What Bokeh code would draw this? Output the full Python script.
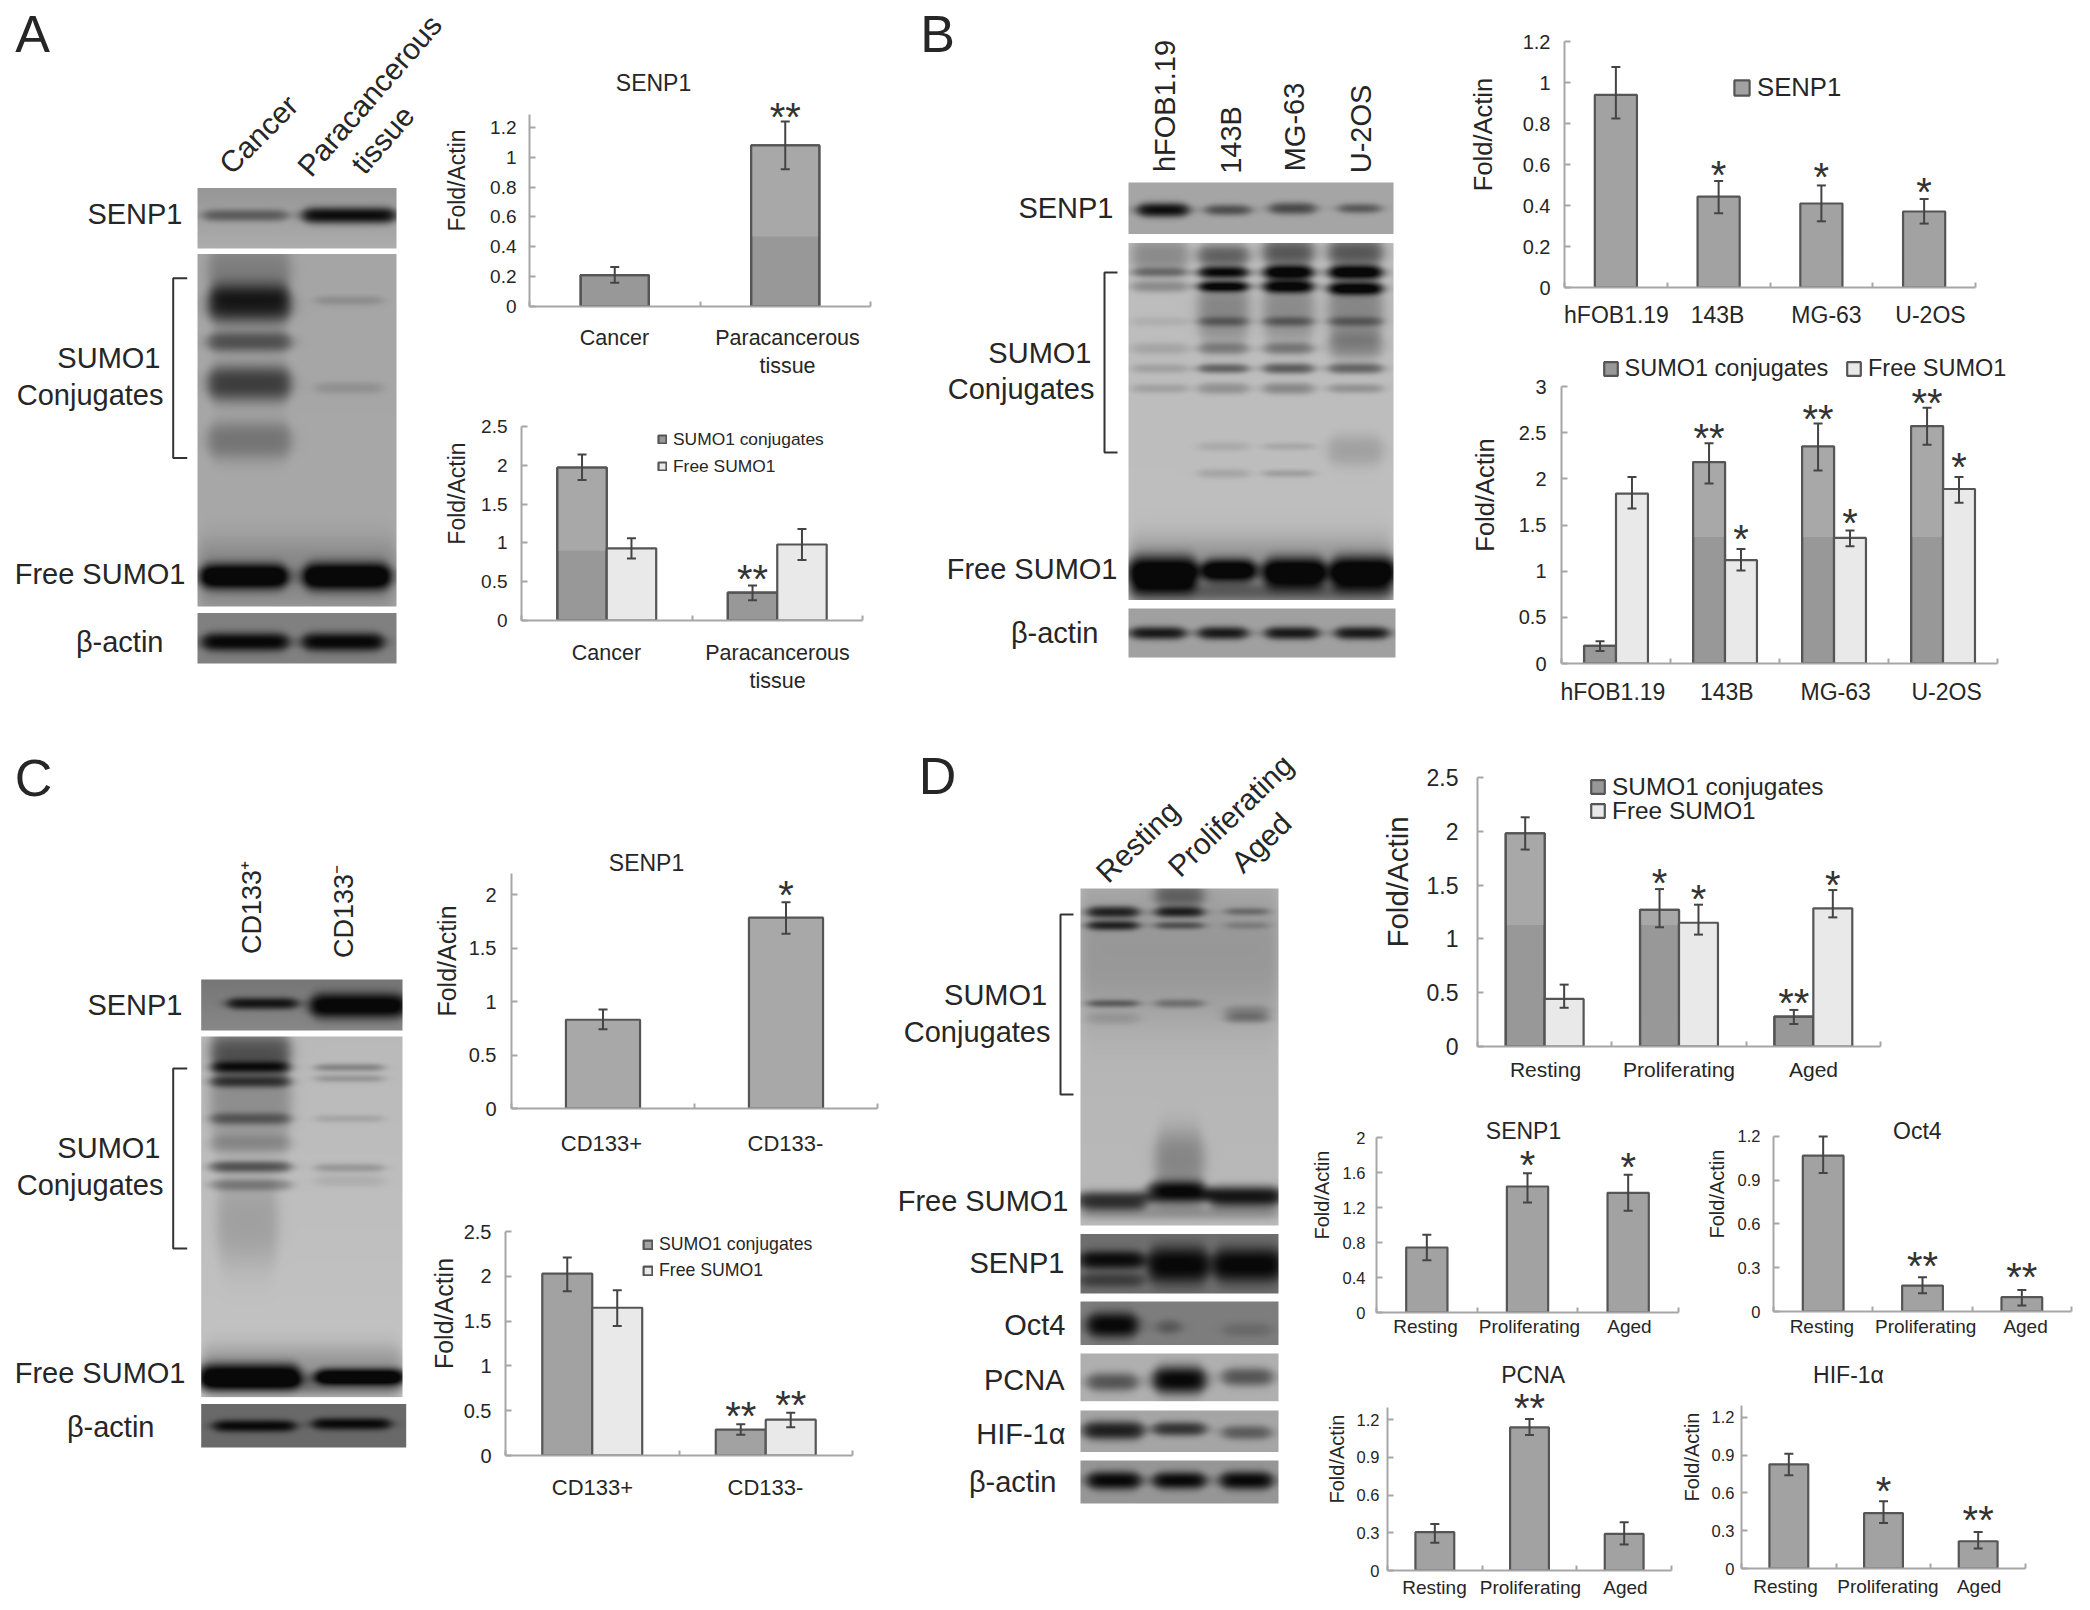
import numpy as np
from bokeh.core.properties import value
from bokeh.embed import file_html
from bokeh.layouts import column
from bokeh.models import (ColumnDataSource, FixedTicker, Label, Legend, LegendItem,
                          LinearColorMapper, Range1d, TeeHead, Whisker)
from bokeh.plotting import figure
from bokeh.resources import INLINE

FONT = "Liberation Sans"
TXT = "#262626"

# ---------- chart values ----------
a_cats = ["Cancer", "Paracancerous\ntissue"]
b_cats = ["hFOB1.19", "143B", "MG-63", "U-2OS"]
c_cats = ["CD133+", "CD133-"]
d_cats = ["Resting", "Proliferating", "Aged"]

a1_vals = [0.21, 1.08]; a1_hi = [0.265, 1.24]; a1_lo = [0.16, 0.92]
a2_conj = [1.97, 0.36]; a2_conj_hi = [2.14, 0.45]; a2_conj_lo = [1.81, 0.26]
a2_free = [0.93, 0.98]; a2_free_hi = [1.06, 1.18]; a2_free_lo = [0.80, 0.78]

b1_vals = [0.94, 0.443, 0.41, 0.371]; b1_hi = [1.076, 0.52, 0.498, 0.432]; b1_lo = [0.825, 0.362, 0.323, 0.312]
b2_conj = [0.19, 2.18, 2.35, 2.57]; b2_conj_hi = [0.24, 2.385, 2.6, 2.77]; b2_conj_lo = [0.135, 1.95, 2.09, 2.37]
b2_free = [1.84, 1.12, 1.36, 1.89]; b2_free_hi = [2.02, 1.24, 1.44, 2.02]; b2_free_lo = [1.68, 1.006, 1.27, 1.74]

c1_vals = [0.83, 1.785]; c1_hi = [0.925, 1.93]; c1_lo = [0.742, 1.635]
c2_conj = [2.03, 0.29]; c2_conj_hi = [2.21, 0.35]; c2_conj_lo = [1.835, 0.233]
c2_free = [1.65, 0.40]; c2_free_hi = [1.845, 0.476]; c2_free_lo = [1.447, 0.316]

d_conj = [1.98, 1.27, 0.278]; d_conj_hi = [2.13, 1.463, 0.34]; d_conj_lo = [1.83, 1.108, 0.21]
d_free = [0.442, 1.15, 1.284]; d_free_hi = [0.575, 1.318, 1.454]; d_free_lo = [0.36, 1.04, 1.2]
d_senp1 = [0.743, 1.44, 1.368]; d_senp1_hi = [0.888, 1.592, 1.573]; d_senp1_lo = [0.598, 1.257, 1.162]
d_oct4 = [1.068, 0.178, 0.098]; d_oct4_hi = [1.2, 0.235, 0.148]; d_oct4_lo = [0.949, 0.125, 0.041]
d_pcna = [0.305, 1.139, 0.291]; d_pcna_hi = [0.371, 1.205, 0.384]; d_pcna_lo = [0.22, 1.078, 0.207]
d_hif = [0.826, 0.44, 0.216]; d_hif_hi = [0.91, 0.533, 0.29]; d_hif_lo = [0.739, 0.361, 0.158]

# significance marks: (category, series, mark, height on the value axis)
a1_marks = [(1, 0, "**", 1.30)]
a2_marks = [(1, 0, "**", 0.587)]
b1_marks = [(1, 0, "*", 0.567), (2, 0, "*", 0.557), (3, 0, "*", 0.484)]
b2_marks = [(1, 0, "**", 2.49), (2, 0, "**", 2.695), (3, 0, "**", 2.865),
            (1, 1, "*", 1.39), (2, 1, "*", 1.57), (3, 1, "*", 2.17)]
c1_marks = [(1, 0, "*", 2.03)]
c2_marks = [(1, 0, "**", 0.485), (1, 1, "**", 0.607)]
d_marks = [(1, 0, "*", 1.556), (1, 1, "*", 1.408), (2, 0, "**", 0.442), (2, 1, "*", 1.535)]
d_senp1_marks = [(1, 0, "*", 1.733), (2, 0, "*", 1.707)]
d_oct4_marks = [(1, 0, "**", 0.342), (2, 0, "**", 0.262)]
d_pcna_marks = [(1, 0, "**", 1.325)]
d_hif_marks = [(1, 0, "*", 0.646), (2, 0, "**", 0.414)]

T05 = [0, 0.5, 1, 1.5, 2, 2.5]
T02 = [0, 0.2, 0.4, 0.6, 0.8, 1, 1.2]
T03 = [0, 0.3, 0.6, 0.9, 1.2]
T04 = [0, 0.4, 0.8, 1.2, 1.6, 2]

# ---------- page layout of the charts (full-size pixels) ----------
DARK, LIGHT, MID, PALE, EDGE = "#989898", "#a8a8a8", "#a2a2a2", "#e9e9e9", "#555555"

CHARTS = [
    dict(left=529, right=870, y0=306, top=114, ymax=1.287, ticks=T02, cats=a_cats,
         label_x=[614, 787], label_y=337.5, label_fs=21.5, tick_fs=19, gap=13, fold_x=459, fold_fs=23,
         series=[(a1_vals, a1_hi, a1_lo, LIGHT, 0.47)], bw=0.4, marks=a1_marks,
         title="SENP1", title_xy=(653, 82), title_fs=23),
    dict(left=521, right=862, y0=620, top=426.4, ymax=2.5, ticks=T05, cats=a_cats,
         label_x=[606, 777], label_y=652, label_fs=21.5, tick_fs=19, gap=14, fold_x=459, fold_fs=23,
         series=[(a2_conj, a2_conj_hi, a2_conj_lo, LIGHT, 0.9), (a2_free, a2_free_hi, a2_free_lo, PALE, None)],
         bw=0.29, marks=a2_marks, legend=[("SUMO1 conjugates", 657, 439, 17.4, 10), ("Free SUMO1", 657, 466, 17.4, 10)]),
    dict(left=1564, right=1975, y0=286, top=40.5, ymax=1.2, ticks=T02, cats=b_cats,
         label_x=[1616, 1717, 1826, 1930], label_y=313, label_fs=23, tick_fs=20, gap=14, fold_x=1484, fold_fs=25.5,
         series=[(b1_vals, b1_hi, b1_lo, MID, None)], bw=0.41, marks=b1_marks,
         legend=[("SENP1", 1732, 86, 25.7, 19)]),
    dict(left=1560.5, right=1997, y0=663, top=386, ymax=3, ticks=[0, 0.5, 1, 1.5, 2, 2.5, 3], cats=b_cats,
         label_x=[1612, 1726, 1835, 1946], label_y=691, label_fs=23, tick_fs=20, gap=15, fold_x=1485, fold_fs=25.5, R=40,
         series=[(b2_conj, b2_conj_hi, b2_conj_lo, LIGHT, 1.37), (b2_free, b2_free_hi, b2_free_lo, PALE, None)],
         bw=0.293, marks=b2_marks,
         legend=[("SUMO1 conjugates", 1601.5, 368, 23.5, 17), ("Free SUMO1", 1845, 368, 23.5, 17)]),
    dict(left=511, right=877, y0=1107.5, top=873, ymax=2.197, ticks=[0, 0.5, 1, 1.5, 2], cats=c_cats,
         label_x=[601, 785], label_y=1142, label_fs=22, tick_fs=20, gap=15, fold_x=448, fold_fs=25,
         series=[(c1_vals, c1_hi, c1_lo, LIGHT, None)], bw=0.405, marks=c1_marks,
         title="SENP1", title_xy=(646, 862.5), title_fs=23),
    dict(left=505, right=852, y0=1454.5, top=1231, ymax=2.5, ticks=T05, cats=c_cats,
         label_x=[592, 765], label_y=1486, label_fs=22, tick_fs=20, gap=14, fold_x=445, fold_fs=25,
         series=[(c2_conj, c2_conj_hi, c2_conj_lo, MID, None), (c2_free, c2_free_hi, c2_free_lo, PALE, None)],
         bw=0.288, marks=c2_marks,
         legend=[("SUMO1 conjugates", 642, 1244, 17.7, 11), ("Free SUMO1", 642, 1270, 17.7, 11)]),
    dict(left=1477, right=1880, y0=1046, top=777, ymax=2.5, ticks=T05, cats=d_cats,
         label_x=[1545, 1678.5, 1813], label_y=1069, label_fs=21, tick_fs=23, gap=19, fold_x=1398, fold_fs=29.5,
         series=[(d_conj, d_conj_hi, d_conj_lo, LIGHT, 1.13), (d_free, d_free_hi, d_free_lo, PALE, None)],
         bw=0.29, marks=d_marks,
         legend=[("SUMO1 conjugates", 1589, 786, 24.4, 17), ("Free SUMO1", 1589, 810, 24.4, 17)]),
    dict(left=1376, right=1678, y0=1311.7, top=1136.7, ymax=2, ticks=T04, cats=d_cats,
         label_x=[1425, 1529, 1629], label_y=1326, label_fs=19, tick_fs=16.5, gap=11, fold_x=1323, fold_fs=20,
         series=[(d_senp1, d_senp1_hi, d_senp1_lo, MID, None)], bw=0.41, marks=d_senp1_marks,
         title="SENP1", title_xy=(1523, 1130), title_fs=23),
    dict(left=1772.6, right=2071, y0=1311, top=1135.7, ymax=1.2, ticks=T03, cats=d_cats,
         label_x=[1821, 1925, 2025], label_y=1326, label_fs=19, tick_fs=16.5, gap=13, fold_x=1718, fold_fs=20,
         series=[(d_oct4, d_oct4_hi, d_oct4_lo, MID, None)], bw=0.41, marks=d_oct4_marks,
         title="Oct4", title_xy=(1916.6, 1130), title_fs=23),
    dict(left=1387, right=1671, y0=1570, top=1406.7, ymax=1.298, ticks=T03, cats=d_cats,
         label_x=[1434, 1530, 1625], label_y=1587, label_fs=19, tick_fs=16.5, gap=8, fold_x=1338, fold_fs=20,
         series=[(d_pcna, d_pcna_hi, d_pcna_lo, MID, None)], bw=0.41, marks=d_pcna_marks,
         title="PCNA", title_xy=(1532.7, 1374), title_fs=23),
    dict(left=1741, right=2025, y0=1568, top=1405, ymax=1.293, ticks=T03, cats=d_cats,
         label_x=[1785, 1887.5, 1978.6], label_y=1586, label_fs=19, tick_fs=16.5, gap=7, fold_x=1692.6, fold_fs=20,
         series=[(d_hif, d_hif_hi, d_hif_lo, MID, None)], bw=0.41, marks=d_hif_marks,
         title="HIF-1\u03b1", title_xy=(1848, 1374), title_fs=23),
]

# ---------- blot strips: box, background top/bottom grey, lanes of (x0, x1, [(y, half height, darkness)]) ----------
STRIPS = [
    # A
    (197, 187.5, 396, 248, 150, 172, [(203, 287, [(215, 5, 70)]), (302, 395, [(215, 7, 150)])]),
    (197, 253.5, 396, 606, 165, 168, [
        (208, 290, [(272, 25, 40), (303.6, 17, 130), (341.5, 9, 85), (383, 16, 105), (440, 17, 50)]),
        (315, 382, [(300, 4, 25), (387.5, 5, 22)]),
        (197, 396, [(575, 32, 35)]),
        (200, 287, [(576, 11, 170)]), (303, 390, [(576, 12, 170)])]),
    (197, 612.5, 396, 663, 128, 128, [(202, 288, [(641.5, 8, 125)]), (302, 383, [(641.5, 8, 125)])]),
    # B
    (1128, 182, 1393, 233.5, 165, 165, [(1137, 1188, [(210, 6, 155)]), (1205, 1250, [(210, 4.5, 90)]),
                                       (1269, 1315, [(208.5, 5, 95)]), (1338, 1380, [(208.5, 4, 80)])]),
    (1128, 242.5, 1393, 599.5, 188, 190, [
        (1132, 1187, [(255, 15, 50), (272, 4, 70), (286, 5, 50), (321, 4, 15), (348, 5, 25), (368, 4, 30), (388, 4, 30)]),
        (1198, 1248, [(255, 10, 90), (272, 5, 170), (286, 4.5, 170), (310, 30, 55), (321, 4, 55), (348, 5, 55), (368, 4, 95), (388, 5, 45), (446, 4, 20), (473, 4, 25)]),
        (1263, 1313, [(252, 12, 100), (272, 6, 190), (286, 5.5, 170), (310, 30, 50), (321, 4, 60), (348, 5, 60), (368, 4.5, 100), (388, 5, 55), (446, 3, 25), (473, 3, 35)]),
        (1328, 1382, [(252, 12, 100), (272, 6, 190), (288, 5.5, 170), (310, 30, 55), (321, 4, 55), (345, 12, 45), (368, 4.5, 90), (388, 4, 45), (450, 14, 28)]),
        (1128, 1393, [(572, 30, 50), (592, 8, 60)]),
        (1128, 1197, [(573, 15, 170)]), (1202, 1255, [(570, 10, 170)]), (1263, 1325, [(572, 13, 170)]), (1330, 1396, [(572, 14, 170)])]),
    (1128, 608, 1395, 657, 160, 160, [(1130, 1185, [(632.6, 5.5, 140)]), (1198, 1247, [(632.6, 5.5, 140)]),
                                     (1265, 1318, [(632.6, 5.5, 140)]), (1335, 1388, [(632.6, 5.5, 140)])]),
    # C
    (200.7, 979, 402, 1030, 118, 135, [(227, 297, [(1003, 5, 110)]), (310, 405, [(1005.4, 11, 135)])]),
    (200.7, 1036, 402, 1396.6, 185, 195, [
        (210, 290, [(1052, 18, 90), (1068, 5, 95), (1082, 5, 95), (1100, 40, 45), (1119, 5, 65), (1144, 8, 35), (1167, 5, 100), (1185, 5, 55)]),
        (217, 277, [(1222, 40, 30)]),
        (315, 383, [(1068, 3, 60), (1079, 3, 40), (1119, 3, 25), (1168, 3.5, 40), (1181, 5, 15)]),
        (200.7, 402, [(1370, 22, 45), (1385, 8, 50)]),
        (198, 300, [(1376, 11, 170)]), (315, 405, [(1376, 7, 170)])]),
    (200.7, 1403.5, 405.7, 1447, 105, 105, [(213, 295, [(1426, 5, 100)]), (312, 390, [(1424, 5, 100)])]),
    # D
    (1080, 888, 1278, 1225, 178, 185, [
        (1080, 1278, [(955, 60, 28)]),
        (1087, 1138, [(911.6, 5, 130), (925, 4, 130), (1003, 3, 80), (1018, 5, 20)]),
        (1155, 1203, [(895, 10, 70), (911.6, 4.5, 130), (925, 3, 85), (1003, 3.5, 55), (1160, 28, 50)]),
        (1225, 1268, [(911, 3, 60), (925, 3, 35), (1011, 5, 40), (1018, 4, 50)]),
        (1080, 1278, [(1212, 6, 40)]),
        (1077, 1147, [(1200, 8, 140)]), (1147, 1207, [(1192, 10, 165)]), (1207, 1281, [(1196, 9, 165)])]),
    (1080, 1233.5, 1278, 1293, 110, 110, [(1080, 1143, [(1260, 8, 100), (1280, 6, 50)]), (1148, 1208, [(1265, 16, 105)]), (1213, 1281, [(1265, 15, 105)])]),
    (1080, 1301, 1278, 1344.5, 125, 125, [(1087, 1137, [(1325, 11, 120)]), (1157, 1180, [(1327, 6, 40)]), (1223, 1270, [(1329.6, 6, 20)])]),
    (1080, 1353, 1278, 1400.7, 175, 175, [(1087, 1137, [(1382, 8, 90)]), (1153, 1205, [(1380, 12, 170)]), (1222, 1272, [(1377, 8, 90)])]),
    (1080, 1410, 1278, 1451.5, 165, 165, [(1083, 1143, [(1430.5, 8, 135)]), (1153, 1205, [(1429, 6, 115)]), (1222, 1270, [(1432.6, 6, 75)])]),
    (1080, 1460, 1278, 1503, 150, 150, [(1087, 1140, [(1480, 8, 145)]), (1153, 1205, [(1480, 7.5, 145)]), (1220, 1272, [(1480, 8, 145)])]),
]

# ---------- texts round the blots: (text, x, y, align, size, angle in degrees) ----------
BLOT_TEXTS = [
    ("A", 32, 33, "center", 52, 0), ("B", 937, 33, "center", 52, 0), ("C", 33, 777, "center", 52, 0), ("D", 937, 775, "center", 52, 0),
    ("Cancer", 258, 134, "center", 30, 45), ("Paracancerous", 369, 95, "center", 30, 49), ("tissue", 382, 139, "center", 30, 49),
    ("SENP1", 182, 213, "right", 29, 0), ("SUMO1", 160, 357, "right", 29, 0), ("Conjugates", 163, 394, "right", 29, 0),
    ("Free SUMO1", 185, 573, "right", 29, 0), ("\u03b2-actin", 163, 641.5, "right", 29, 0),
    ("hFOB1.19", 1164, 105.5, "center", 29, 90), ("143B", 1230, 139.5, "center", 29, 90), ("MG-63", 1294, 126.5, "center", 29, 90), ("U-2OS", 1360, 128.5, "center", 29, 90),
    ("SENP1", 1113, 207.6, "right", 29, 0), ("SUMO1", 1091, 352.7, "right", 29, 0), ("Conjugates", 1094, 388, "right", 29, 0),
    ("Free SUMO1", 1117, 568, "right", 29, 0), ("\u03b2-actin", 1098, 632, "right", 29, 0),
    ("CD133\u207a", 251.7, 907, "center", 27, 90), ("CD133\u207b", 343, 911, "center", 27, 90),
    ("SENP1", 182, 1004, "right", 29, 0), ("SUMO1", 160, 1147.7, "right", 29, 0), ("Conjugates", 163, 1184.4, "right", 29, 0),
    ("Free SUMO1", 185, 1372, "right", 29, 0), ("\u03b2-actin", 154, 1426.4, "right", 29, 0),
    ("Resting", 1137, 841, "center", 30, 44), ("Proliferating", 1230, 815, "center", 30, 44), ("Aged", 1260.6, 842, "center", 30, 44),
    ("SUMO1", 1046.7, 994.7, "right", 29, 0), ("Conjugates", 1050, 1031, "right", 29, 0), ("Free SUMO1", 1068, 1200, "right", 29, 0),
    ("SENP1", 1064, 1262, "right", 29, 0), ("Oct4", 1065, 1324.6, "right", 29, 0), ("PCNA", 1064, 1379, "right", 29, 0),
    ("HIF-1\u03b1", 1065, 1433, "right", 29, 0), ("\u03b2-actin", 1056, 1481, "right", 29, 0),
]
# brackets: spine x, top y, bottom y, end of the feet
BRACKETS = [(172.7, 277.7, 457.6, 186.7), (1104, 272, 452, 1117), (172.7, 1068, 1248, 186.7), (1060, 914, 1094, 1073)]

PAGE_W, PAGE_H = 2082, 1602


def Y(y):
    return 1610 - y


def absolute(p, x, y):
    p.styles = {"position": "absolute", "left": f"{x:.2f}px", "top": f"{y:.2f}px"}


def soften(a, sigma=1.6):
    r = int(3 * sigma)
    k = np.exp(-0.5 * (np.arange(-r, r + 1) / sigma) ** 2)
    k /= k.sum()
    a = np.pad(a, r, mode="edge")
    a = np.apply_along_axis(lambda m: np.convolve(m, k, mode="same"), 0, a)
    a = np.apply_along_axis(lambda m: np.convolve(m, k, mode="same"), 1, a)
    return a[r:-r, r:-r]


def strip_image(x0, y0, x1, y1, bg_top, bg_bot, lanes):
    w, h = int(round(x1 - x0)), int(round(y1 - y0))
    xs = x0 + (np.arange(w) + 0.5) * (x1 - x0) / w
    ys = y0 + (np.arange(h) + 0.5) * (y1 - y0) / h
    base = np.linspace(bg_top, bg_bot, h)[:, None] * np.ones((h, w))
    for lx0, lx1, bands in lanes:
        gx = 0.5 * (np.tanh((xs - lx0) / 7.0) - np.tanh((xs - lx1) / 7.0))
        shape = 0.55 + 0.45 * gx
        for yc, hh, d in bands:
            dist = np.abs(ys[:, None] - yc) / (1.15 * hh * shape[None, :])
            base -= d * np.exp(-(dist ** 2.6)) * gx[None, :]
    return np.flipud(np.clip(soften(base), 8, 255))


def background():
    p = figure(width=PAGE_W, height=PAGE_H, x_range=Range1d(0, PAGE_W), y_range=Range1d(8, 8 + PAGE_H),
               output_backend="svg", toolbar_location=None, min_border=0, outline_line_color=None,
               background_fill_color=None, border_fill_color=None, frame_align=False)
    p.axis.visible = False
    p.grid.visible = False
    mapper = LinearColorMapper(palette=["#%02x%02x%02x" % (i, i, i) for i in range(256)], low=0, high=255)
    for s in STRIPS:
        x0, y0, x1, y1 = s[:4]
        p.image(image=[strip_image(*s)], x=x0, y=Y(y1), dw=x1 - x0, dh=y1 - y0, color_mapper=mapper)
    for sx, t, b, f in BRACKETS:
        p.line([f, sx, sx, f], [Y(t), Y(t), Y(b), Y(b)], line_color="#333333", line_width=2)
    for align in ("center", "right"):
        rows = [r for r in BLOT_TEXTS if r[3] == align]
        for size in sorted({r[4] for r in rows}):
            sub = [r for r in rows if r[4] == size]
            p.text(x=[r[1] for r in sub], y=[Y(r[2]) for r in sub], text=[r[0] for r in sub],
                   angle=[r[5] for r in sub], angle_units="deg", text_align=align, text_baseline="middle",
                   text_font=value(FONT), text_font_size=f"{size}px", text_color=TXT)
    absolute(p, 0, 0)
    return p


def chart(c):
    L, PAD = 110, 60
    R = c.get("R", 12)
    n = len(c["cats"])
    left, right, y0, top, ymax = c["left"], c["right"], c["y0"], c["top"], c["ymax"]
    fw = right - left
    catw = fw / n
    scale = (y0 - top) / ymax
    fh = y0 - top + PAD
    lines = max(s.count("\n") + 1 for s in c["cats"])
    B = int(c["label_y"] - y0 + (0.95 + 1.25 * (lines - 1)) * c["label_fs"])
    W = int(round(L + fw + R))
    # the frame runs on past the axes' ends so that marks and legends up there are not clipped
    p = figure(width=W, height=int(round(fh + B)),
               x_range=Range1d(0, n + R / catw), y_range=Range1d(0, ymax + PAD / scale),
               output_backend="svg", toolbar_location=None, outline_line_color=None,
               background_fill_color=None, border_fill_color=None, frame_align=False,
               min_border_left=L, min_border_right=0,
               min_border_top=0, min_border_bottom=B)
    p.grid.visible = False
    # y axis
    ya = p.yaxis[0]
    ya.ticker = FixedTicker(ticks=c["ticks"])
    ya.major_label_overrides = {float(t): f"{t:g}" for t in c["ticks"]}
    ya.bounds = (0, ymax)
    ya.minor_tick_line_color = None
    ya.major_tick_in, ya.major_tick_out = 6, 0
    ya.major_label_standoff = c["gap"]
    ya.major_label_text_font = FONT
    ya.major_label_text_font_size = f"{c['tick_fs']}px"
    ya.major_label_text_color = TXT
    ya.axis_line_color = ya.major_tick_line_color = "#a6a6a6"
    ya.axis_line_width = ya.major_tick_line_width = 2
    ya.axis_label = "Fold/Actin"
    ya.axis_label_text_font = FONT
    ya.axis_label_text_font_style = "normal"
    ya.axis_label_text_font_size = f"{c['fold_fs']}px"
    ya.axis_label_text_color = TXT
    widest = max(len(f"{t:g}") * 0.556 - (0.278 if "." in f"{t:g}" else 0) for t in c["ticks"]) * c["tick_fs"]
    ya.axis_label_standoff = int(round(left - c["fold_x"] - c["gap"] - widest - 0.6 * c["fold_fs"]))
    # x axis: category names at their own spots, small ticks between categories
    xa = p.xaxis[0]
    pos = [round((x - left) / catw, 4) for x in c["label_x"]]
    xa.ticker = FixedTicker(ticks=pos, minor_ticks=list(range(n + 1)))
    xa.major_label_overrides = dict(zip(pos, c["cats"]))
    xa.bounds = (0, n)
    xa.major_tick_in = xa.major_tick_out = 0
    xa.minor_tick_in, xa.minor_tick_out = 5, 0
    xa.major_tick_line_color = None
    xa.axis_line_color = xa.minor_tick_line_color = "#a6a6a6"
    xa.axis_line_width = xa.minor_tick_line_width = 2
    xa.major_label_text_font = FONT
    xa.major_label_text_font_size = f"{c['label_fs']}px"
    xa.major_label_text_color = TXT
    xa.major_label_standoff = int(round(c["label_y"] - y0 - 0.58 * c["label_fs"]))
    # bars
    k = len(c["series"])
    bw = c["bw"]
    main = []
    for j, (vals, hi, lo, col, level) in enumerate(c["series"]):
        xs = [i + 0.5 + (j - (k - 1) / 2) * bw for i in range(n)]
        if level is None:
            r = p.vbar(x=xs, top=vals, width=bw, bottom=0, fill_color=col, line_color=EDGE, line_width=2.2)
        else:
            r = p.vbar(x=xs, top=vals, width=bw, bottom=0, fill_color=DARK, line_color=EDGE, line_width=2.2)
            mids = [min(v, level) for v in vals]
            p.vbar(x=xs, top=vals, bottom=mids, width=bw - 0.012, fill_color=col, line_color=None)
            p.vbar(x=xs, top=vals, width=bw, bottom=0, fill_color=None, line_color=EDGE, line_width=2.2)
        main.append(r)
        src = ColumnDataSource(dict(x=xs, hi=hi, lo=lo))
        p.add_layout(Whisker(source=src, base="x", upper="hi", lower="lo", level="overlay",
                             line_color="#444444", line_width=2,
                             upper_head=TeeHead(size=9, line_color="#444444", line_width=2),
                             lower_head=TeeHead(size=9, line_color="#444444", line_width=2)))
    # significance marks
    for cat, ser, mark, h in c["marks"]:
        x = cat + 0.5 + (ser - (k - 1) / 2) * bw
        p.text(x=[x], y=[h], text=[mark], text_align="center", text_baseline="alphabetic",
               y_offset=4, text_font=value(FONT), text_font_size="40px", text_color="#333333")
    # legend, one row object each
    for j, (lab, sx, sy, fs, gw) in enumerate(c.get("legend", [])):
        leg = Legend(items=[LegendItem(label=lab, renderers=[main[j]])],
                     location=(sx - left, y0 - sy - 0.6 * fs),
                     glyph_width=gw, glyph_height=gw, label_standoff=6, padding=0, margin=0,
                     label_text_font=FONT, label_text_font_size=f"{fs}px", label_text_color=TXT,
                     label_height=int(fs), border_line_color=None, background_fill_alpha=0,
                     click_policy="none")
        p.add_layout(leg)
    # chart title
    if "title" in c:
        tx, ty = c["title_xy"]
        p.add_layout(Label(x=(tx - left) / catw, y=(y0 - ty) / scale, text=c["title"], text_align="center",
                           text_baseline="middle", text_font=FONT, text_font_size=f"{c['title_fs']}px",
                           text_color=TXT))
    absolute(p, left - L, top - PAD)
    return p


children = [background()] + [chart(c) for c in CHARTS]
root = column(*children, width=PAGE_W, height=PAGE_H, sizing_mode="fixed",
              styles={"position": "relative", "display": "block"})
open("out.html", "w").write(file_html(root, INLINE))
